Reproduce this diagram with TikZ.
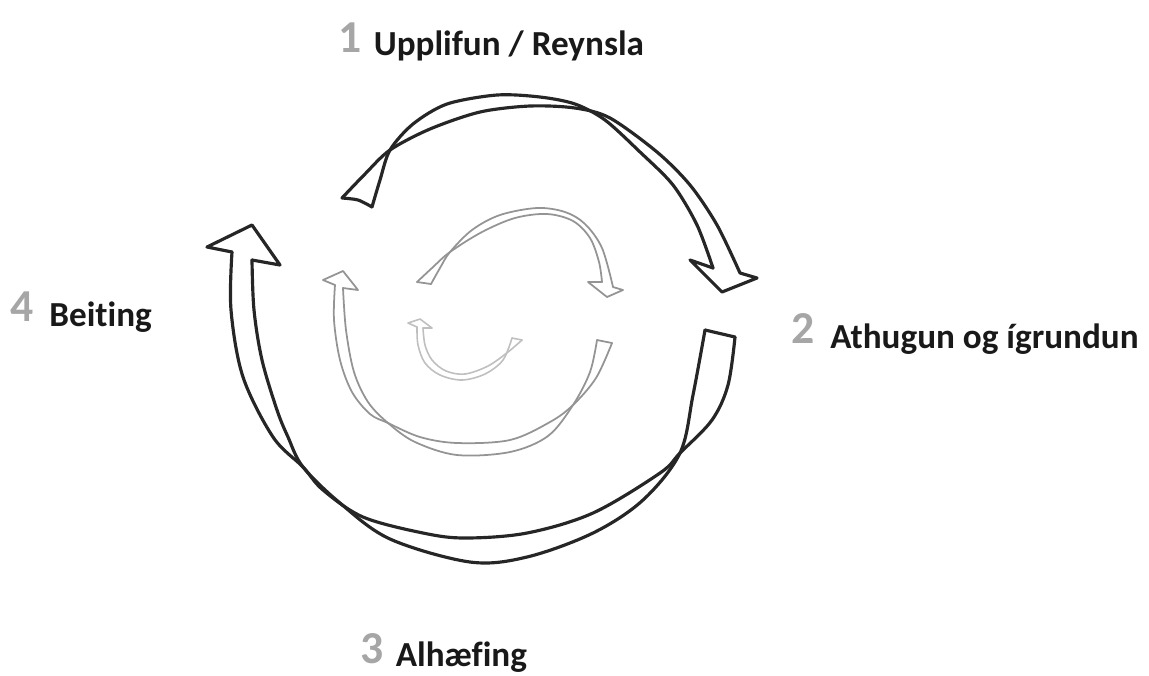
\documentclass[tikz,border=0pt]{standalone}
\usepackage{fontspec}
\setmainfont{Carlito}[Ligatures=NoCommon]
\usetikzlibrary{positioning, calc}

\begin{document}
\begin{tikzpicture}[
		x=0.01cm, y=-0.01cm,
		% Stroke styles for the hand-drawn ribbon arrows
		ribbon/.style={line width=0.9pt, draw=black!85, line join=round, line cap=round},
		faint/.style={line width=0.5pt, draw=black!42, line join=round, line cap=round},
		fainter/.style={line width=0.45pt, draw=black!25, line join=round, line cap=round},
		% Label styles
		num/.style={font=\fontsize{13}{15}\selectfont\bfseries, text=black!35, inner sep=0pt, anchor=base west},
		lab/.style={font=\fontsize{10}{12}\selectfont\bfseries, text=black!90, inner sep=0pt}
		]
		\useasboundingbox (0,0) rectangle (1149,675);
		
		% ==============================================================================
		% 1. STAGE LABELS
		% ==============================================================================
		\node[num] (n1) at (338,52) {1};
		\node[lab, right=3pt of n1.base east, anchor=base west, yshift=-1pt] (t1) {Upplifun / Reynsla};
		
		\node[num] (n2) at (791,343) {2};
		\node[lab, right=4pt of n2.base east, anchor=base west, yshift=-1.5pt] (t2) {Athugun og ígrundun};
		
		\node[num] (n3) at (360,663) {3};
		\node[lab, right=3pt of n3.base east, anchor=base west, yshift=-1pt] (t3) {Alhæfing};
		
		\node[num] (n4) at (10,321) {4};
		\node[lab, right=4pt of n4.base east, anchor=base west, yshift=-1.5pt] (t4) {Beiting};
		
		% ==============================================================================
		% 2. OUTER ARROW, TOP (1 -> 2)
		% ==============================================================================
		\draw[ribbon] plot[smooth, tension=0.5] coordinates {
			(372,207) (380,180) (390,150) (413,124) (447,104) (497,95) (540,97) (575,104)
			(605,120) (640,152) (673,185) (697,225) (713,268)};
		\draw[ribbon] plot[smooth, tension=0.5] coordinates {
			(342,198) (365,174) (390,150) (430,129) (480,112) (530,106) (575,108)
			(610,118) (657,152) (690,185) (717,225) (740,273)};
		\draw[ribbon] plot[smooth] coordinates {(342,198) (358,200) (372,207)};
		\draw[ribbon] (713,268) -- (690,260) -- (722,292) -- (757,278) -- (740,273);
		
		% ==============================================================================
		% 3. OUTER ARROW, BOTTOM (2 -> 3 -> 4)
		% ==============================================================================
		\draw[ribbon] plot[smooth, tension=0.55] coordinates {
			(705,330) (693,395) (680,453) (643,500) (593,533) (527,557) (470,562)
			(390,539) (340,503) (303,467) (288,437) (277,410) (262,360) (254,310) (252,260)};
		\draw[ribbon] plot[smooth, tension=0.55] coordinates {
			(735,337) (728,385) (712,420) (680,453) (660,473) (593,513) (527,533) (465,538)
			(423,533) (363,517) (323,490) (303,467) (273,437) (243,377) (231,310) (232,252)};
		\draw[ribbon] (705,330) -- (735,337);
		\draw[ribbon] (232,252) -- (207,247) -- (252,225) -- (280,265) -- (252,260);
		
		% ==============================================================================
		% 4. INNER ARROWS (lighter)
		% ==============================================================================
		% top arc
		\draw[faint] plot[smooth, tension=0.55] coordinates {
			(431,284) (440,268) (450,252) (472,230) (500,215) (537,208) (565,212)
			(585,224) (602,248) (613,287)};
		\draw[faint] plot[smooth, tension=0.55] coordinates {
			(417,282) (432,268) (450,252) (482,232) (515,218) (547,214) (573,221)
			(590,238) (599,262) (602,282)};
		\draw[faint] (417,282) -- (431,284);
		\draw[faint] (602,282) -- (588,282) -- (607,297) -- (623,290) -- (613,287);
		
		% lower arc
		\draw[faint] plot[smooth, tension=0.55] coordinates {
			(343,288) (346,330) (354,372) (368,402) (388,423) (415,442) (457,455)
			(510,452) (548,436) (573,405) (590,372) (597,340)};
		\draw[faint] plot[smooth, tension=0.55] coordinates {
			(335,285) (334,320) (340,360) (352,392) (370,414) (388,423) (420,437)
			(457,443) (510,440) (550,422) (573,405) (596,378) (612,343)};
		\draw[faint] (597,340) -- (612,343);
		\draw[faint] (335,285) -- (323,280) -- (343,271) -- (358,290) -- (343,288);
		
		% smallest arc
		\draw[fainter] plot[smooth, tension=0.55] coordinates {
			(417,327) (418,345) (425,363) (440,375) (462,380) (485,374) (503,360) (512,338)};
		\draw[fainter] plot[smooth, tension=0.55] coordinates {
			(423,328) (425,345) (432,360) (446,371) (465,374) (488,366) (508,352) (522,340)};
		\draw[fainter] (512,338) -- (522,340);
		\draw[fainter] (417,327) -- (408,323) -- (420,319) -- (432,328) -- (423,328);
	\end{tikzpicture}
\end{document}
